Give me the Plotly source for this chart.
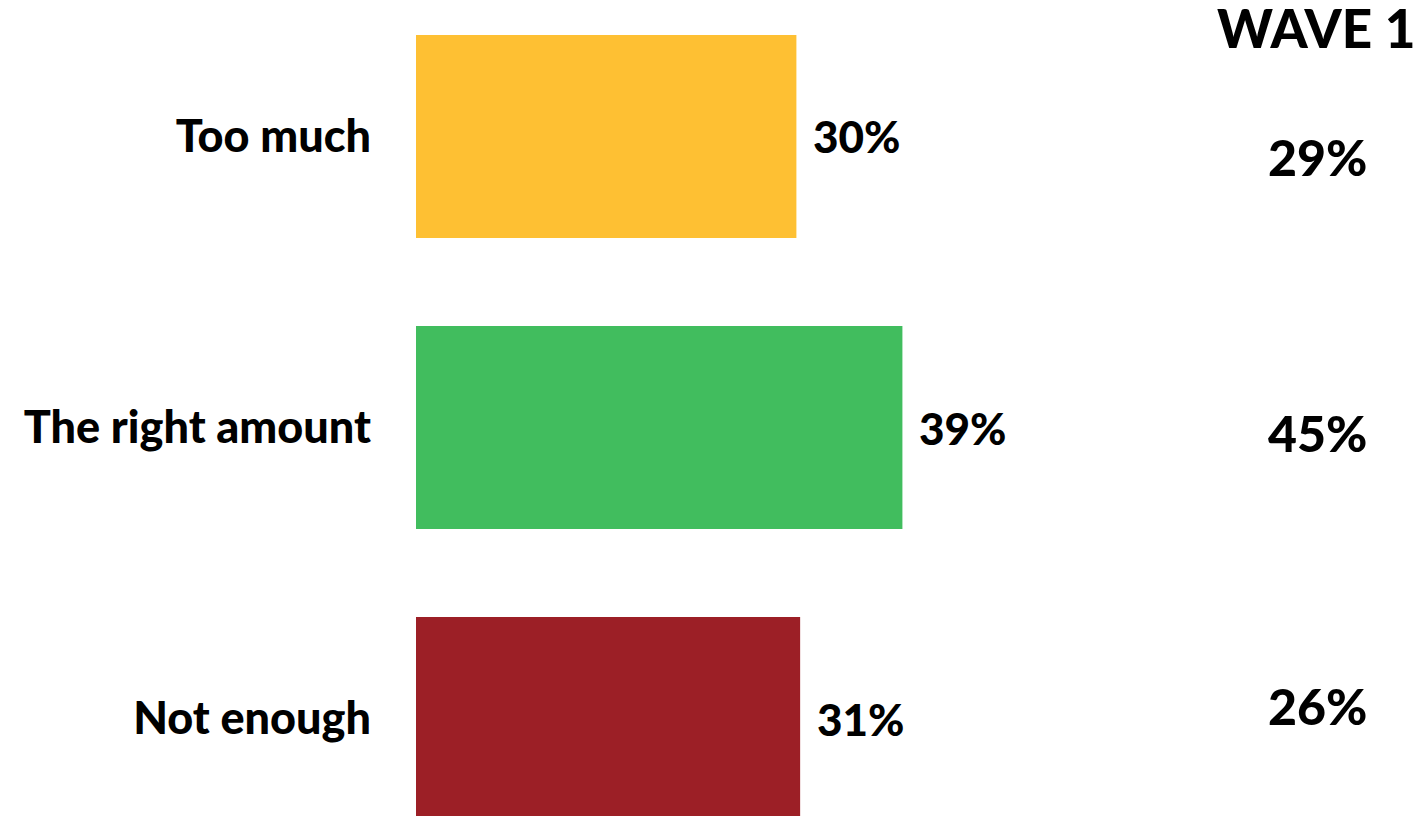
import plotly.graph_objects as go

categories = ["Too much", "The right amount", "Not enough"]
values = [30.5, 39.0, 30.8]
value_labels = ["30%", "39%", "31%"]
colors = ["#FEC033", "#41BD5E", "#9C1F26"]
wave1_title = "WAVE 1"
wave1_labels = ["29%", "45%", "26%"]

FONT = "Lato"

fig = go.Figure()
fig.add_trace(go.Bar(
    y=categories, x=values, orientation="h",
    marker=dict(color=colors, line=dict(width=0)),
    width=0.698, hoverinfo="skip",
))

# value labels to the right of bars
for c, v, t in zip(categories, values, value_labels):
    fig.add_annotation(x=v, y=c, xref="x", yref="y", text=t, showarrow=False,
                       xanchor="left", yanchor="middle", xshift=15,
                       font=dict(family=FONT, size=44, color="#000000", weight=900))

# wave 1 column
wave_shift = [-21, -5, 13]
for c, t, s in zip(categories, wave1_labels, wave_shift):
    fig.add_annotation(x=0.898, y=c, xref="paper", yref="y", text=t, showarrow=False,
                       xanchor="center", yanchor="middle", yshift=s,
                       font=dict(family=FONT, size=50, color="#000000", weight=900))
fig.add_annotation(x=0.896, y=1 - 28 / 816, xref="paper", yref="paper", text=wave1_title,
                   showarrow=False, xanchor="center", yanchor="middle",
                   font=dict(family=FONT, size=53, color="#000000", weight=900))

fig.update_layout(
    width=1420, height=816,
    margin=dict(l=416, r=0, t=0, b=0),
    paper_bgcolor="white", plot_bgcolor="white",
    showlegend=False,
    xaxis=dict(range=[0, 80.5], visible=False, fixedrange=True),
    yaxis=dict(categoryorder="array", categoryarray=categories,
               range=[2.335, -0.469], showgrid=False, zeroline=False, showline=False,
               ticks="", ticklabelstandoff=44, fixedrange=True,
               tickfont=dict(family=FONT, size=45, color="#000000", weight=900)),
)

fig.write_html("out.html", config={"displayModeBar": False},
               post_script="document.body.style.margin='0px';")
